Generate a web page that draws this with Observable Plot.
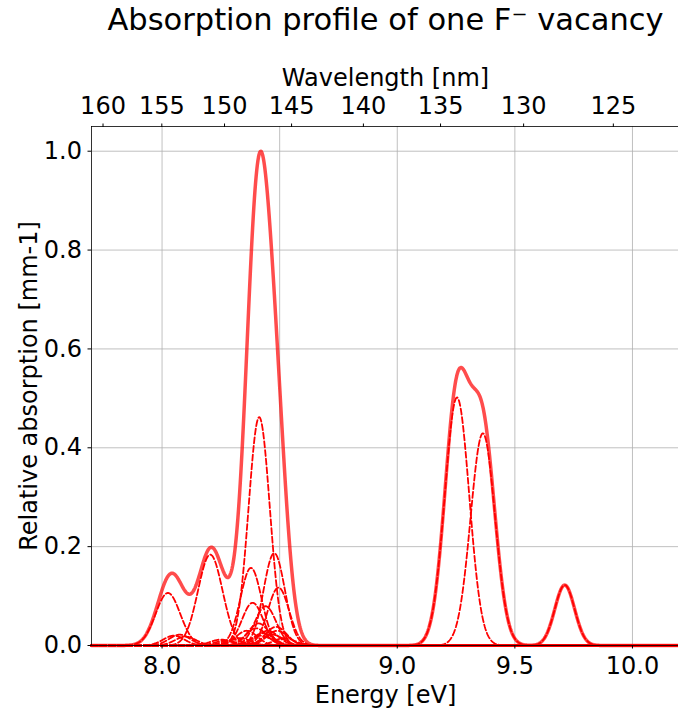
<!DOCTYPE html>
<html><head><meta charset="utf-8">
<script src="https://cdn.jsdelivr.net/npm/d3@7"></script>
<script src="https://cdn.jsdelivr.net/npm/@observablehq/plot@0.6"></script>
<style>body{margin:0;background:#fff;} svg{display:block;}</style>
</head><body><div id="chart"></div>
<script>
// Absorption components (Gaussian peaks)
const peakEnergy = [8.025, 8.050, 8.075, 8.100, 8.205, 8.250, 8.270, 8.300, 8.330, 8.360, 8.378, 8.385, 8.400, 8.410, 8.413, 8.420, 8.430, 8.440, 8.450, 8.470, 8.477, 8.485, 8.490, 8.495, 8.520, 9.254, 9.364, 9.712];
const peakHeight = [0.107, 0.020, 0.022, 0.018, 0.185, 0.012, 0.010, 0.012, 0.015, 0.030, 0.158, 0.087, 0.035, 0.045, 0.465, 0.020, 0.025, 0.080, 0.030, 0.022, 0.188, 0.038, 0.030, 0.118, 0.015, 0.505, 0.432, 0.123];
const peakWidth = [0.052, 0.045, 0.045, 0.045, 0.052, 0.045, 0.045, 0.045, 0.045, 0.045, 0.045, 0.045, 0.045, 0.045, 0.045, 0.045, 0.045, 0.045, 0.045, 0.045, 0.045, 0.045, 0.045, 0.045, 0.045, 0.052, 0.052, 0.042];

const energyTicks = [8.0, 8.5, 9.0, 9.5, 10.0];
const absorptionTicks = [0.0, 0.2, 0.4, 0.6, 0.8, 1.0];
const wavelengthTicks = [160, 155, 150, 145, 140, 135, 130, 125];
const energyDomain = [7.7, 10.2];
const hc = 1239.84; // eV·nm

const titleText = "Absorption profile of one F\u207B vacancy";
const xLabel = "Energy [eV]";
const yLabel = "Relative absorption [mm-1]";
const topLabel = "Wavelength [nm]";

// sampling grid for drawing the line shapes
const grid = d3.range(0, 1001).map(i => energyDomain[0] + i * (energyDomain[1] - energyDomain[0]) / 1000);
const gauss = (e, k) => peakHeight[k] * Math.exp(-((e - peakEnergy[k]) ** 2) / (2 * peakWidth[k] ** 2));
const rawSum = grid.map(e => d3.sum(peakEnergy, (_, k) => gauss(e, k)));
const norm = d3.max(rawSum);
const total = grid.map((e, i) => ({e, a: rawSum[i] / norm}));
const comps = [];
peakEnergy.forEach((_, k) => grid.forEach(e => comps.push({e, a: gauss(e, k) / norm, k})));

const font = "DejaVu Sans";
const fs = 24;
const chart = Plot.plot({
  width: 678,
  height: 710,
  marginLeft: 91,
  marginRight: -1,
  marginTop: 126,
  marginBottom: 65,
  style: {fontFamily: font, fontSize: fs + "px", color: "black", background: "white"},
  x: {domain: energyDomain, axis: null},
  y: {domain: [0, 1.05], axis: null},
  marks: [
    Plot.ruleX(energyTicks, {stroke: "#b0b0b0", strokeWidth: 0.8}),
    Plot.ruleY(absorptionTicks, {stroke: "#b0b0b0", strokeWidth: 0.8}),
    Plot.line(comps, {x: "e", y: "a", z: "k", stroke: "red", strokeWidth: 1.8, strokeDasharray: "6,2.7"}),
    Plot.line(total, {x: "e", y: "a", stroke: "red", strokeOpacity: 0.7, strokeWidth: 3.5}),
    Plot.frame({stroke: "black", strokeWidth: 0.8}),
    Plot.axisX(energyTicks, {anchor: "bottom", tickSize: 3.5, tickPadding: 7.5, tickFormat: d3.format(".1f"), fontSize: fs, label: null}),
    Plot.axisY(absorptionTicks, {anchor: "left", tickSize: 3.5, tickPadding: 6, tickFormat: d3.format(".1f"), fontSize: fs, label: null}),
    Plot.axisX(wavelengthTicks.map(l => hc / l), {anchor: "top", tickSize: 3.5, tickPadding: 9.5, tickFormat: d => String(Math.round(hc / d)), fontSize: fs, label: null}),
    Plot.text([xLabel], {frameAnchor: "bottom", lineAnchor: "bottom", textAnchor: "middle", dy: 57, fontSize: fs}),
    Plot.text([topLabel], {frameAnchor: "top", lineAnchor: "bottom", textAnchor: "middle", dy: -41, fontSize: fs}),
    Plot.text([yLabel], {frameAnchor: "left", lineAnchor: "middle", textAnchor: "middle", dx: -62, rotate: -90, fontSize: fs}),
    Plot.text([titleText], {frameAnchor: "top", lineAnchor: "bottom", textAnchor: "middle", dy: -97, fontSize: 30.5})
  ]
});
document.getElementById("chart").append(chart);
</script>
</body></html>
